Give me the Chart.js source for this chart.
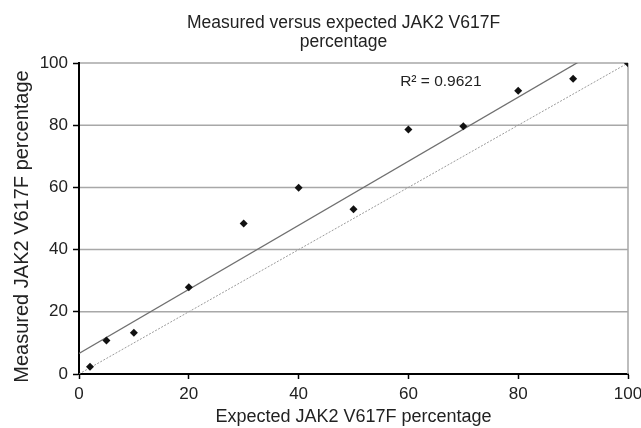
<!DOCTYPE html>
<html><head><meta charset="utf-8">
<script src="https://cdn.jsdelivr.net/npm/chart.js@4/dist/chart.umd.min.js"></script>
<style>html,body{margin:0;padding:0;background:#fff}canvas{display:block}</style>
</head><body>
<canvas id="c" width="641" height="428"></canvas>
<script>
// ---- data ----
const expected = [2, 5, 10, 20, 30, 40, 50, 60, 70, 80, 90, 100];
const measured = [2.3, 10.8, 13.3, 27.9, 48.4, 59.9, 53.0, 78.6, 79.7, 91.1, 94.9, 99.9];
const xTicks = [0, 20, 40, 60, 80, 100];
const yTicks = [0, 20, 40, 60, 80, 100];
const trendSlope = 1.03;
const trendIntercept = 6.6;
const rSquaredLabel = 'R\u00B2 = 0.9621';
const rLabelAt = { x: 58.5, y: 94 };
const titleLines = ['Measured versus expected JAK2 V617F', 'percentage'];
const xTitle = 'Expected JAK2 V617F percentage';
const yTitle = 'Measured JAK2 V617F percentage';

// ---- styling ----
const FONT = "'Liberation Sans', Arial, sans-serif";
const TEXT = '#222';
const GRID = '#a8a8a8';

const xMin = xTicks[0], xMax = xTicks[xTicks.length - 1];
const yMin = yTicks[0], yMax = yTicks[yTicks.length - 1];
const pointData = expected.map((x, i) => ({ x, y: measured[i] }));
const trendData = [xMin, xMax].map(x => ({ x, y: trendIntercept + trendSlope * x }));
const identityData = [xMin, xMax].map(x => ({ x, y: x }));

// horizontal grid lines + right frame line, bounded by the axis range
const gridLines = {
  id: 'gridLines',
  beforeDatasetsDraw(chart) {
    const { ctx, scales: { x, y } } = chart;
    const left = x.getPixelForValue(xMin) + 1;
    const right = x.getPixelForValue(xMax);
    const top = y.getPixelForValue(yMax);
    const bottom = y.getPixelForValue(yMin);
    ctx.save();
    ctx.strokeStyle = GRID;
    ctx.lineWidth = 1.5;
    ctx.beginPath();
    yTicks.filter(v => v !== yMin).forEach(v => {
      const py = y.getPixelForValue(v);
      ctx.moveTo(left, py);
      ctx.lineTo(right, py);
    });
    ctx.moveTo(right, top);
    ctx.lineTo(right, bottom);
    ctx.stroke();
    ctx.restore();
  }
};

const chartText = {
  id: 'chartText',
  afterDraw(chart) {
    const { ctx, chartArea } = chart;
    ctx.save();
    ctx.fillStyle = TEXT;
    ctx.font = '17.5px ' + FONT;
    ctx.textAlign = 'center';
    ctx.textBaseline = 'alphabetic';
    const cx = (chartArea.left + chartArea.right) / 2 - 10;
    titleLines.forEach((t, i) => ctx.fillText(t, cx, 27.5 + i * 19));
    ctx.font = '20px ' + FONT;
    ctx.textBaseline = 'middle';
    ctx.translate(22, (chartArea.top + chartArea.bottom) / 2 + 8);
    ctx.rotate(-Math.PI / 2);
    ctx.fillText(yTitle, 0, 0);
    ctx.restore();
  }
};
const rLabel = {
  id: 'rLabel',
  afterDatasetsDraw(chart) {
    const { ctx, scales: { x, y } } = chart;
    ctx.save();
    ctx.font = '15.5px ' + FONT;
    ctx.fillStyle = TEXT;
    ctx.textAlign = 'left';
    ctx.textBaseline = 'middle';
    ctx.fillText(rSquaredLabel, x.getPixelForValue(rLabelAt.x), y.getPixelForValue(rLabelAt.y));
    ctx.restore();
  }
};

new Chart(document.getElementById('c'), {
  type: 'scatter',
  data: {
    datasets: [
      { data: pointData, pointStyle: 'rectRot', pointRadius: 4, backgroundColor: '#111', borderColor: '#111', borderWidth: 0, showLine: false, order: 0 },
      { data: trendData, showLine: true, borderColor: '#707070', borderWidth: 1.3, pointRadius: 0, order: 1 },
      { data: identityData, showLine: true, borderColor: '#9a9a9a', borderWidth: 1, borderDash: [2, 1.5], pointRadius: 0, order: 2 }
    ]
  },
  options: {
    responsive: false,
    animation: false,
    devicePixelRatio: 1,
    layout: { padding: { top: 63, right: 13, left: 0, bottom: 0 } },
    plugins: { legend: { display: false }, tooltip: { enabled: false }, title: { display: false } },
    scales: {
      x: {
        type: 'linear', min: xMin, max: xMax,
        afterBuildTicks: s => { s.ticks = xTicks.map(v => ({ value: v })); },
        border: { color: '#000', width: 2 },
        grid: { drawOnChartArea: false, color: '#000', tickColor: '#000', tickLength: 5, tickWidth: 1.5 },
        ticks: { font: { family: FONT, size: 17 }, color: TEXT, padding: 5, maxRotation: 0 },
        title: { display: true, text: xTitle, font: { family: FONT, size: 18 }, color: TEXT, padding: { top: 0, bottom: 0 } },
        afterFit: s => { s.height = 54; s.paddingLeft = 0; s.paddingRight = 0; }
      },
      y: {
        type: 'linear', min: yMin, max: yMax,
        afterBuildTicks: s => { s.ticks = yTicks.map(v => ({ value: v })); },
        border: { color: '#000', width: 2 },
        grid: { drawOnChartArea: false, color: '#000', tickColor: '#000', tickLength: 6, tickWidth: 1.5 },
        ticks: { font: { family: FONT, size: 17 }, color: TEXT, padding: 5 },
        title: { display: false },
        afterFit: s => { s.width = 79; s.paddingTop = 0; s.paddingBottom = 0; }
      }
    }
  },
  plugins: [gridLines, chartText, rLabel]
});
</script>
</body></html>
